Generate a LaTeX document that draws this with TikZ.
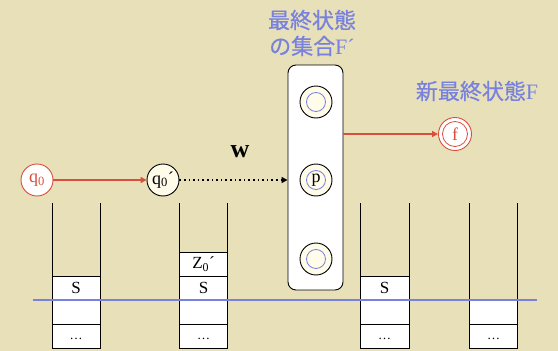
\documentclass[tikz,border=0pt]{standalone}
\usepackage{fontspec}
\setmainfont{Liberation Serif}
\newfontfamily\cjk[FakeBold=0.6]{Noto Sans CJK JP}
\usetikzlibrary{arrows.meta}
\definecolor{bg}{RGB}{232,224,184}
\definecolor{fblue}{RGB}{120,130,222}
\definecolor{fred}{RGB}{218,78,62}
\definecolor{cream}{RGB}{255,252,234}
\tikzset{
  stackline/.style={draw=black, line width=0.9pt},
  cell/.style={font=\fontsize{17}{17}\selectfont, inner sep=0pt},
  dots/.style={font=\fontsize{13}{13}\selectfont, inner sep=0pt},
  finalst/.style={circle, draw=black, line width=0.9pt, fill=cream, minimum size=32pt, inner sep=0pt,
    font=\fontsize{18}{18}\selectfont,
    path picture={\draw[fblue, line width=0.8pt] (path picture bounding box.center) circle (9.5pt);}},
  redarrow/.style={draw=fred, line width=2.8pt, -{Triangle[length=6pt,width=6pt]}},
  bluetext/.style={text=fblue, font=\fontsize{22}{22}\selectfont, inner sep=0pt},
}
\begin{document}
\begin{tikzpicture}[x=1pt,y=-1pt]
\fill[bg] (0,0) rectangle (558,351);
\useasboundingbox (0,0) rectangle (558,351);

% stacks
\fill[white] (52,276) rectangle (100,348);
\fill[white] (179.5,252) rectangle (227.5,348);
\fill[white] (360.5,276) rectangle (409,348);
\fill[white] (469.5,300) rectangle (517.5,348);
\draw[stackline] (52,203) -- (52,348) -- (100,348) -- (100,203);
\draw[stackline] (52,276) -- (100,276) (52,300) -- (100,300) (52,324) -- (100,324);
\draw[stackline] (179.5,203) -- (179.5,348) -- (227.5,348) -- (227.5,203);
\draw[stackline] (179.5,252) -- (227.5,252) (179.5,276) -- (227.5,276) (179.5,300) -- (227.5,300) (179.5,324) -- (227.5,324);
\draw[stackline] (360.5,203) -- (360.5,348) -- (409,348) -- (409,203);
\draw[stackline] (360.5,276) -- (409,276) (360.5,300) -- (409,300) (360.5,324) -- (409,324);
\draw[stackline] (469.5,203) -- (469.5,348) -- (517.5,348) -- (517.5,203);
\draw[stackline] (469.5,300) -- (517.5,300) (469.5,324) -- (517.5,324);

\node[cell] (s1) at (76,288) {S};
\node[cell] (z2) at (203.5,264) {Z\textsubscript{0}´};
\node[cell] (s2) at (203.5,288) {S};
\node[cell] (s3) at (384.7,288) {S};
\node[dots] (d1) at (76,339) {…};
\node[dots] (d2) at (203.5,339) {…};
\node[dots] (d3) at (384.7,339) {…};
\node[dots] (d4) at (493.5,339) {…};

% blue line
\draw[fblue, line width=2.4pt] (33,300) -- (537,300);

% box of final states
\node[draw=black, line width=0.9pt, fill=white, rounded corners=8pt, minimum width=55pt, minimum height=225pt, inner sep=0pt] (box) at (315.5,177.5) {};
\node[finalst] (fa) at (316,102) {};
\node[finalst] (p) at (316,180) {p};
\node[finalst] (fb) at (316,259) {};

% states
\node[circle, draw=fred, line width=0.9pt, fill=white, minimum size=32pt, inner sep=0pt, text=fred, font=\fontsize{18}{18}\selectfont] (q0) at (37,180) {q\textsubscript{0}};
\node[circle, draw=black, line width=0.9pt, fill=cream, minimum size=32pt, inner sep=0pt, font=\fontsize{18}{18}\selectfont] (q0p) at (163,180) {q\textsubscript{0}´};
\node[circle, draw=fred, line width=0.9pt, fill=white, minimum size=33pt, inner sep=0pt, text=fred, font=\fontsize{18}{18}\selectfont,
  path picture={\draw[fred, line width=0.8pt] (path picture bounding box.center) circle (12.5pt);}] (f) at (455,134) {f};

% arrows
\draw[redarrow] (q0) -- (q0p);
\draw[line width=1.8pt, dash pattern=on 1.6pt off 3pt, -{Triangle[length=6pt,width=6pt]}] (q0p) -- (q0p -| box.west);
\draw[redarrow] (box.east |- f) -- (f);

% labels
\node[font=\fontsize{26}{26}\selectfont\bfseries, inner sep=0pt] (w) at (240,152) {w};
\node[bluetext] (t1) at (312,20) {\cjk 最終状態};
\node[bluetext] (t2) at (312,46) {{\cjk の集合}F´};
\node[bluetext] (t3) at (477,91) {{\cjk 新最終状態}F};
\end{tikzpicture}
\end{document}
